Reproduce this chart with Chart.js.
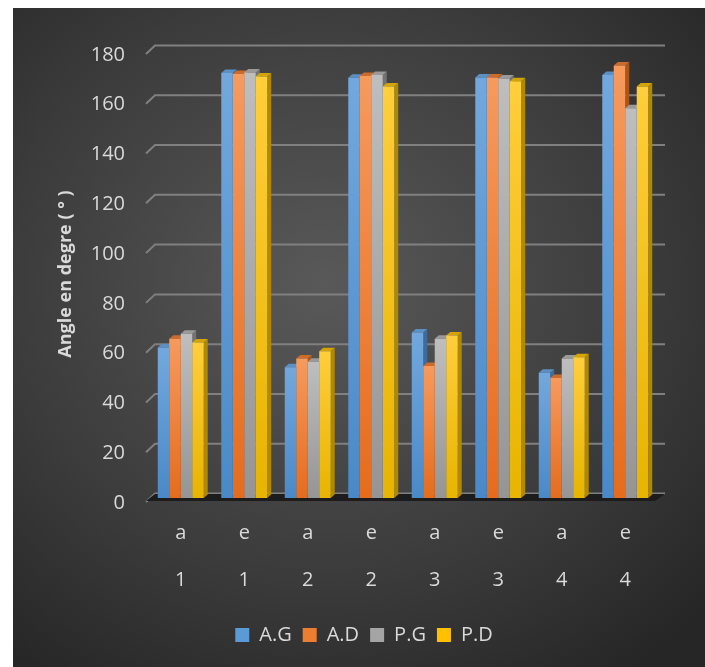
<!DOCTYPE html>
<html>
<head>
<meta charset="utf-8">
<script src="https://cdn.jsdelivr.net/npm/chart.js@4"></script>
<style>
  html, body { margin: 0; padding: 0; background: #ffffff; }
  #panel {
    position: absolute; left: 13px; top: 8px; width: 692px; height: 659px;
    background: radial-gradient(ellipse 75% 72% at 45% 42%, #595959 0%, #3b3b3b 62%, #262626 100%);
  }
  canvas { display: block; }
</style>
</head>
<body>
<div id="panel"><canvas id="chart" width="692" height="659"></canvas></div>
<script>
// Données
const letters = ["a", "e", "a", "e", "a", "e", "a", "e"];
const groups = ["1", "1", "2", "2", "3", "3", "4", "4"];
const seriesNames = ["A.G", "A.D", "P.G", "P.D"];
const agValues = [60.5, 170.8, 52.5, 168.9, 66.5, 169, 50.3, 170];
const adValues = [64, 170.4, 56, 169.6, 53, 169, 48.2, 173.8];
const pgValues = [66, 171, 54.7, 170, 64, 168.5, 56, 156.6];
const pdValues = [62.5, 169.4, 59, 165.3, 65.3, 167.4, 56.6, 165.3];
const yTicks = [0, 20, 40, 60, 80, 100, 120, 140, 160, 180];

// Couleurs : haut du dégradé, bas du dégradé, côté, dessus
const palette = [
  { light: "#72a8dd", dark: "#4a89c8", side: "#3b6c9c", top: "#5b90c4" },
  { light: "#f69a5e", dark: "#e56c1d", side: "#ad5417", top: "#cc6b2c" },
  { light: "#bebebe", dark: "#959595", side: "#737373", top: "#9a9a9a" },
  { light: "#ffce3c", dark: "#e7b400", side: "#b08900", top: "#d4a500" }
];
const legendColors = ["#5b9bd5", "#ed7d31", "#a5a5a5", "#ffc000"];
const textColor = "#d9d9d9";
const depthX = 4, depthY = 3.5;   // profondeur des barres
const wallX = 9, wallY = 8.5;     // décalage du mur du fond

const labels = letters.map((l, i) => [l, groups[i]]);
const allValues = [agValues, adValues, pgValues, pdValues];

function frontGradient(ctx, d) {
  const chart = ctx.chart;
  const y = chart.scales.y;
  if (!y || ctx.raw === undefined) return palette[d].dark;
  const top = y.getPixelForValue(ctx.raw);
  const bottom = y.getPixelForValue(0);
  if (!isFinite(top) || !isFinite(bottom) || top === bottom) return palette[d].dark;
  const g = chart.ctx.createLinearGradient(0, top, 0, bottom);
  g.addColorStop(0, palette[d].light);
  g.addColorStop(1, palette[d].dark);
  return g;
}

const datasets = allValues.map((vals, d) => ({
  label: seriesNames[d],
  data: vals,
  backgroundColor: ctx => frontGradient(ctx, d),
  borderWidth: 0,
  categoryPercentage: 0.724,
  barPercentage: 1.0
}));

// Mur du fond, sol et faces 3D des barres
const bar3d = {
  id: "bar3d",
  afterLayout(chart) {
    // la légende est un peu décalée vers la droite dans l'original
    chart.legend.left += 9;
    chart.legend.right += 9;
  },
  beforeDatasetsDraw(chart) {
    const c = chart.ctx;
    const area = chart.chartArea;
    const y = chart.scales.y;
    c.save();
    // lignes de quadrillage sur le mur du fond
    c.strokeStyle = "#808080";
    c.lineWidth = 2;
    yTicks.forEach(v => {
      const py = y.getPixelForValue(v);
      c.beginPath();
      c.moveTo(area.left - 3, py + 4);
      c.lineTo(area.left - 3 + wallX, py + 4 - wallY);
      c.lineTo(area.right + wallX - 1, py + 4 - wallY);
      c.stroke();
    });
    // sol
    const y0 = y.getPixelForValue(0);
    c.fillStyle = "#1c1c1c";
    c.beginPath();
    c.moveTo(area.left - 3, y0 + 3);
    c.lineTo(area.right - 2, y0 + 3);
    c.lineTo(area.right + wallX - 1, y0 - 4);
    c.lineTo(area.left + wallX - 3, y0 - 4);
    c.closePath();
    c.fill();
    // côtés et dessus des barres
    const n = labels.length;
    for (let i = 0; i < n; i++) {
      for (let d = 0; d < datasets.length; d++) {
        const el = chart.getDatasetMeta(d).data[i];
        if (!el) continue;
        const p = el.getProps(["x", "y", "base", "width"], true);
        const left = p.x - p.width / 2, right = p.x + p.width / 2;
        c.fillStyle = palette[d].side;
        c.beginPath();
        c.moveTo(right, p.y);
        c.lineTo(right + depthX, p.y - depthY);
        c.lineTo(right + depthX, p.base - depthY);
        c.lineTo(right, p.base);
        c.closePath();
        c.fill();
        c.fillStyle = palette[d].top;
        c.beginPath();
        c.moveTo(left, p.y);
        c.lineTo(left + depthX, p.y - depthY);
        c.lineTo(right + depthX, p.y - depthY);
        c.lineTo(right, p.y);
        c.closePath();
        c.fill();
      }
    }
    c.restore();
  }
};

new Chart(document.getElementById("chart"), {
  type: "bar",
  data: { labels: labels, datasets: datasets },
  plugins: [bar3d],
  options: {
    responsive: false,
    animation: false,
    layout: { padding: { left: 40, right: 48, top: 42, bottom: 12 } },
    plugins: {
      tooltip: { enabled: false },
      legend: {
        position: "bottom",
        labels: {
          color: textColor,
          font: { family: "'Open Sans'", size: 20 },
          boxWidth: 14,
          boxHeight: 14,
          padding: 11,
          generateLabels: chart => Chart.defaults.plugins.legend.labels.generateLabels(chart)
            .map((item, i) => Object.assign(item, { fillStyle: legendColors[i], strokeStyle: legendColors[i], lineWidth: 0 }))
        }
      }
    },
    scales: {
      x: {
        afterFit: scale => { scale.height = 116; },
        grid: { display: false, drawTicks: false },
        border: { display: false },
        ticks: {
          color: textColor,
          font: { family: "'Open Sans'", size: 20, lineHeight: "47px" },
          padding: 12,
          maxRotation: 0
        }
      },
      y: {
        min: 0,
        max: 180,
        afterBuildTicks: scale => { scale.ticks = yTicks.map(v => ({ value: v })); },
        afterFit: scale => { scale.width = 96; },
        grid: { display: false, drawTicks: false },
        border: { display: false },
        ticks: {
          color: textColor,
          font: { family: "'Open Sans'", size: 20 },
          padding: 24,
          labelOffset: 5
        },
        title: {
          display: true,
          text: "Angle en degre ( ° )",
          color: textColor,
          font: { family: "'Open Sans'", size: 18, weight: "bold" },
          padding: { top: 2, bottom: 0 }
        }
      }
    }
  }
});
</script>
</body>
</html>
